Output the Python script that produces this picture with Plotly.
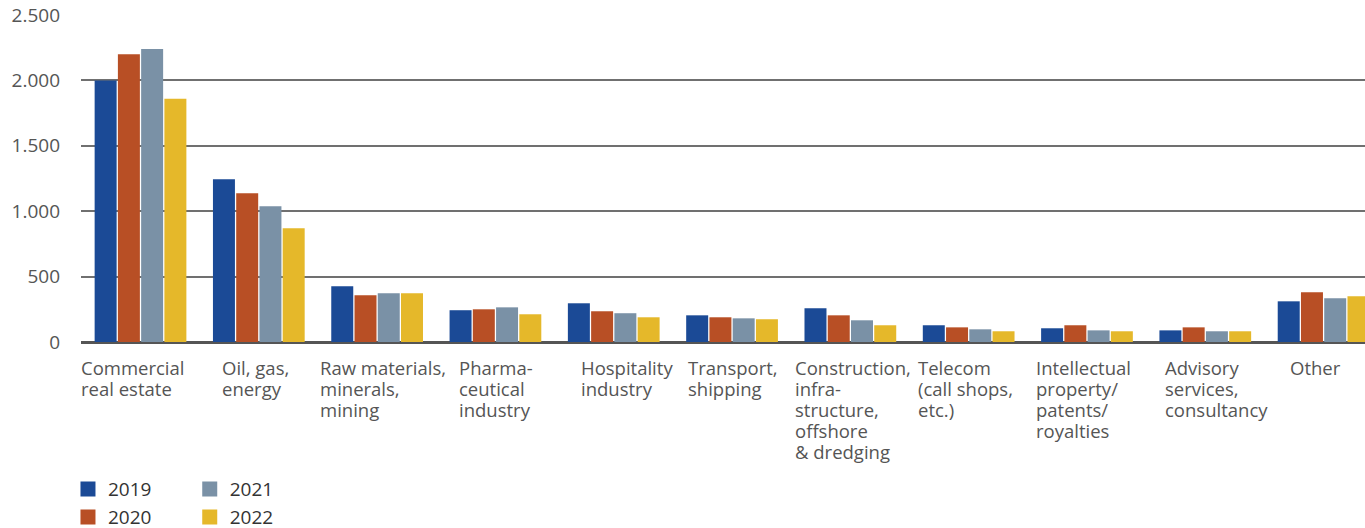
import plotly.graph_objects as go

categories = ["Commercial real estate", "Oil, gas, energy", "Raw materials, minerals, mining",
              "Pharmaceutical industry", "Hospitality industry", "Transport, shipping",
              "Construction, infrastructure, offshore & dredging", "Telecom (call shops, etc.)",
              "Intellectual property/patents/royalties", "Advisory services, consultancy", "Other"]
label_lines = [
    ["Commercial", "real estate"],
    ["Oil, gas,", "energy"],
    ["Raw materials,", "minerals,", "mining"],
    ["Pharma-", "ceutical", "industry"],
    ["Hospitality", "industry"],
    ["Transport,", "shipping"],
    ["Construction,", "infra-", "structure,", "offshore", "& dredging"],
    ["Telecom", "(call shops,", "etc.)"],
    ["Intellectual", "property/", "patents/", "royalties"],
    ["Advisory", "services,", "consultancy"],
    ["Other"],
]
years = ["2019", "2020", "2021", "2022"]
v2019 = [2000, 1245, 426, 243, 296, 204, 258, 128, 105, 89, 311]
v2020 = [2200, 1137, 357, 250, 235, 189, 204, 112, 128, 112, 380]
v2021 = [2240, 1038, 372, 265, 220, 181, 166, 97, 89, 82, 334]
v2022 = [1860, 870, 372, 212, 189, 174, 128, 82, 82, 82, 350]
yticks = [0, 500, 1000, 1500, 2000, 2500]

colors = ["#1B4A96", "#B84F25", "#7A91A6", "#E5B82A"]
label_xshift = [-60, -37, -57, -36, -33, -44, -55, -51, -51, -40, -34]

fig = go.Figure()
for yr, vals, col in zip(years, [v2019, v2020, v2021, v2022], colors):
    fig.add_trace(go.Bar(x=categories, y=vals, name=yr, marker=dict(color=col, line=dict(width=0)),
                         showlegend=False))

legend_names = ["legend", "legend2", "legend3", "legend4"]
legend_pos = [(0.0498, 0.0736), (0.0498, 0.0205), (0.139, 0.0736), (0.139, 0.0205)]
for yr, col, lg in zip(years, colors, legend_names):
    fig.add_trace(go.Scatter(x=[None], y=[None], mode="markers", name=yr, legend=lg,
                             marker=dict(symbol="square", size=15, color=col, line=dict(width=0)),
                             showlegend=True))

leg_font = dict(family="Open Sans, Noto Sans, sans-serif", size=19, color="#333333")
legends = {}
for lg, (lx, ly) in zip(legend_names, legend_pos):
    legends[lg] = dict(x=lx, y=ly, xref="container", yref="container", xanchor="left", yanchor="middle",
                       orientation="v", font=leg_font, bgcolor="rgba(0,0,0,0)", borderwidth=0,
                       itemclick=False, itemdoubleclick=False)

ann = []
lab_font = dict(family="Open Sans, Noto Sans, sans-serif", size=18.5, color="#555555")
for i, (cat, lines) in enumerate(zip(categories, label_lines)):
    for k, line in enumerate(lines):
        ann.append(dict(x=cat, y=0, xref="x", yref="y", text=line, showarrow=False,
                        xanchor="left", yanchor="middle", align="left",
                        borderpad=0, borderwidth=0,
                        xshift=label_xshift[i], yshift=-25 - 21 * k, font=lab_font))

fig.update_layout(
    width=1365, height=528,
    margin=dict(l=81, r=0, t=15, b=186, autoexpand=False),
    paper_bgcolor="white", plot_bgcolor="white",
    barmode="group", bargap=0.214, bargroupgap=0.054,
    separators=",.",
    annotations=ann,
    **legends,
)
fig.update_xaxes(type="category", range=[-0.503, 10.35], showticklabels=False, showgrid=False,
                 zeroline=False, showline=False, ticks="", automargin=False)
fig.update_yaxes(range=[0, 2500], tickvals=yticks, tickformat=",d", showgrid=True,
                 gridcolor="#707070", gridwidth=1.6, zeroline=True, zerolinecolor="#555555",
                 zerolinewidth=2.5, showline=False, ticks="", ticklabelstandoff=20, automargin=False,
                 tickfont=dict(family="Open Sans, Noto Sans, sans-serif", size=19, color="#555555"))

fig.write_html("out.html")
